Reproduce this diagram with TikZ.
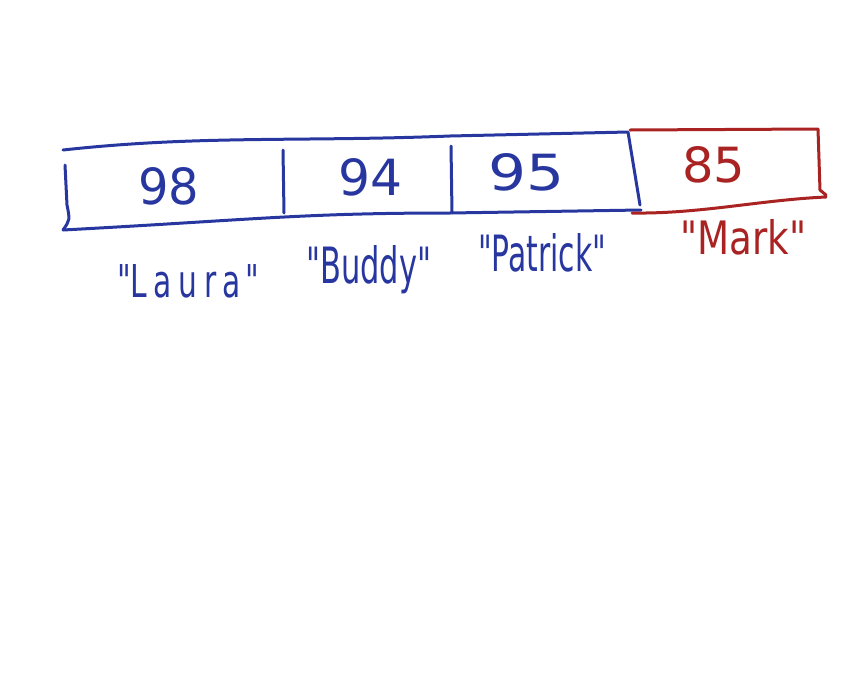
\documentclass[tikz,border=0pt]{standalone}
\usepackage{fontspec}
\setmainfont{DejaVu Sans}[Ligatures=TeXOff]
\definecolor{penblue}{RGB}{40,55,160}
\definecolor{penred}{RGB}{170,35,35}
\newcommand{\fitto}[3]{\resizebox{#1pt}{#2pt}{#3}}
\begin{document}
\begin{tikzpicture}[x=1pt,y=-1pt,
  pen/.style={line width=3pt,line cap=round,line join=round},
  txt/.style={anchor=base west,inner sep=0pt,font=\fontsize{40}{42}\selectfont}]
\useasboundingbox (0,0) rectangle (860,675);
% blue frame
\coordinate (tl) at (63,150);
\coordinate (tr) at (628,132);
\coordinate (bl) at (63,230);
\coordinate (br) at (641,210);
\draw[pen,penblue] (tl) .. controls (200,135) and (300,142) .. (450,136) -- (tr)
  (65,165) -- (67,205) .. controls (70,220) .. (bl)
  (bl) .. controls (250,220) and (300,213) .. (450,213) -- (br)
  (283,150) -- (284,213)
  (451,146) -- (452,213)
  (tr) -- (640,205);
% red frame
\draw[pen,penred] (630,130) -- (818,129) -- (820,190) -- (826,195)
  (632,213) .. controls (700,214) and (760,200) .. (826,197);
% numbers
\node[txt,text=penblue] (n98) at (138,204) {\fitto{61}{37}{98}};
\node[txt,text=penblue] (n94) at (338,195) {\fitto{64}{37}{94}};
\node[txt,text=penblue] (n95) at (488,190) {\fitto{76}{37}{95}};
\node[txt,text=penred] (n85) at (682,182) {\fitto{63}{36}{85}};
% labels
\node[txt,text=penblue] (laura) at (117,297) {\fitto{142}{33}{"{\addfontfeatures{LetterSpace=22}Laura}\hspace{0.15em}"}};
\node[txt,text=penblue] (buddy) at (306,283) {\fitto{125}{38}{"Buddy"}};
\node[txt,text=penblue] (patrick) at (478,271) {\fitto{128}{38}{"Patrick"}};
\node[txt,text=penred] (mark) at (680,254) {\fitto{126}{35}{"Mark"}};
\end{tikzpicture}
\end{document}
